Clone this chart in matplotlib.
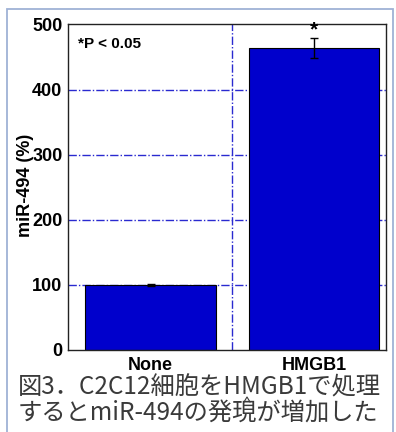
import matplotlib
matplotlib.use("Agg")
import matplotlib.pyplot as plt
from matplotlib.patches import Rectangle
from matplotlib.lines import Line2D

# miR-494 expression relative to untreated cells
groups = ["None", "HMGB1"]
expression = [100, 464]
errors = [2, 15]
yticks = [0, 100, 200, 300, 400, 500]
caption = ["図3．C2C12細胞をHMGB1で処理", "するとmiR-494の発現が増加した"]

plt.rcParams['font.family'] = ['Liberation Sans', 'DejaVu Sans']

fig = plt.figure(figsize=(3.96, 4.32), dpi=100)
ax = fig.add_axes([68/396, 82/432, 318/396, 326.5/432])

grid_col = '#2a2ad0'
for y in yticks[1:-1]:
    ax.axhline(y, color=grid_col, lw=1.0, ls=(0, (6, 1.5, 1, 1.5)), zorder=0)
ax.axvline(0.5, color=grid_col, lw=1.0, ls=(0, (6, 1.5, 1, 1.5)), zorder=0)

x = range(len(groups))
ax.bar(x, expression, width=0.8, color='#0000cc', edgecolor='black', lw=0.8, zorder=2)
ax.errorbar(x, expression, yerr=errors, fmt='none', ecolor='black', elinewidth=1.0,
            capsize=3, capthick=1.0, zorder=3)

ax.text(1, expression[1] + errors[1] - 2, "*", ha='center', va='bottom',
        fontsize=15, fontweight='bold')
ax.text(0.03, 0.96, "*P < 0.05", transform=ax.transAxes, ha='left', va='top',
        fontsize=11, fontweight='bold')

ax.set_xlim(-0.505, 1.44)
ax.set_ylim(0, 502)
ax.set_yticks(yticks)
ax.set_xticks(list(x))
ax.set_xticklabels(groups)
ax.tick_params(length=0, labelsize=13)
ax.tick_params(axis='x', pad=5)
ax.tick_params(axis='y', pad=4)
for lab in ax.get_xticklabels() + ax.get_yticklabels():
    lab.set_fontweight('bold')
for s in ax.spines.values():
    s.set_linewidth(1.0)
    s.set_color('#222222')

fig.text(26/396, 1 - 185/432, "miR-494 (%)", rotation=90, ha='center', va='center',
         fontsize=13, fontweight='bold')

# light frame around the panel
fig.add_artist(Rectangle((7/396, -0.05), 386/396, 1.05 - 9/432, transform=fig.transFigure,
                         fill=False, edgecolor='#9fb2d6', lw=1.3))

cjk = ['Noto Sans CJK JP', 'DejaVu Sans']
fig.text(18/396, 1 - 387/432, caption[0], ha='left', va='center', fontsize=17.5,
         color='#3a3a3a', family=cjk)
fig.text(18/396, 1 - 413/432, caption[1], ha='left', va='center', fontsize=17.5,
         color='#3a3a3a', family=cjk)

# small caret mark between the caption lines
fig.add_artist(Line2D([244/396, 247/396, 250/396], [1 - 402/432, 1 - 397/432, 1 - 402/432],
                      transform=fig.transFigure, color='#3a3a3a', lw=0.8))

fig.savefig("out.png", dpi=100)
